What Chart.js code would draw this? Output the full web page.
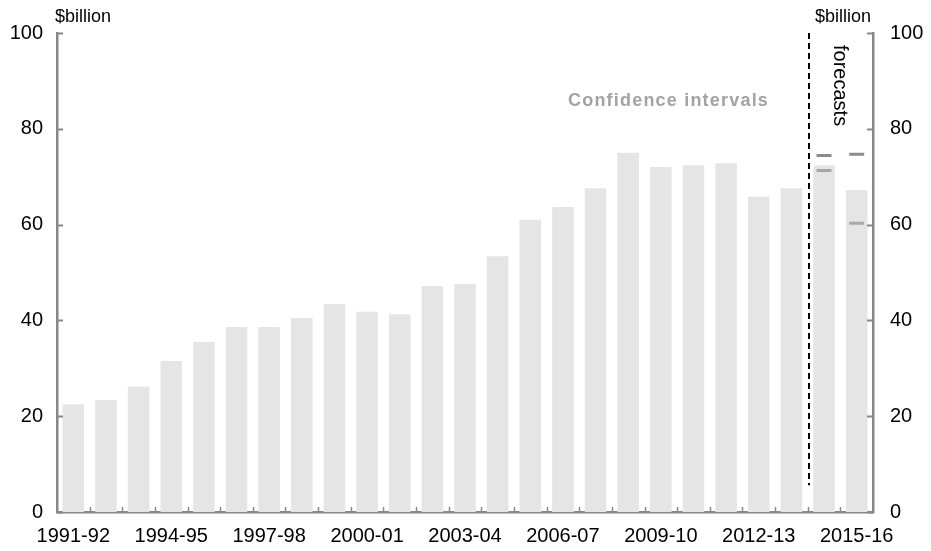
<!DOCTYPE html>
<html>
<head>
<meta charset="utf-8">
<script src="https://cdn.jsdelivr.net/npm/chart.js@4"></script>
<style>
  html, body { margin: 0; padding: 0; background: #fff; }
  #wrap { width: 931px; height: 551px; }
</style>
</head>
<body>
<div id="wrap"><canvas id="chart" width="931" height="551"></canvas></div>
<script>
// ---- data ----
const years = [
    "1991-92", "1992-93", "1993-94", "1994-95", "1995-96", "1996-97", "1997-98",
    "1998-99", "1999-00", "2000-01", "2001-02", "2002-03", "2003-04", "2004-05",
    "2005-06", "2006-07", "2007-08", "2008-09", "2009-10", "2010-11", "2011-12",
    "2012-13", "2013-14", "2014-15", "2015-16"
];
const receipts = [
    22.5, 23.4, 26.2, 31.5, 35.5, 38.6, 38.6, 40.5, 43.4, 41.8, 41.3, 47.2, 47.6,
    53.4, 61.0, 63.7, 67.6, 75.0, 72.0, 72.4, 72.8, 65.8, 67.6, 72.4, 67.2
];
// confidence interval markers (forecast years only)
const ciOuter = [null, null, null, null, null, null, null, null, null, null, null, null, null,
    null, null, null, null, null, null, null, null, null, null, 74.4, 74.7];
const ciInner = [null, null, null, null, null, null, null, null, null, null, null, null, null,
    null, null, null, null, null, null, null, null, null, null, 71.3, 60.3];
const yTicks = [0, 20, 40, 60, 80, 100];
const forecastStart = 22.5;   // boundary between 2013-14 and 2014-15
const forecastLineBottom = 5.6;

const axisColor = "#888888";
const fontFamily = "'Liberation Sans', Arial, sans-serif";

// inward tick marks, forecast divider and free text
const decorations = {
    id: "decorations",
    afterDatasetsDraw(chart) {
        const { ctx, chartArea, scales } = chart;
        const x = scales.x, y = scales.y;
        ctx.save();

        // y ticks pointing into the plot, both sides
        ctx.strokeStyle = axisColor;
        ctx.lineWidth = 2;
        yTicks.forEach((v) => {
            const py = Math.round(y.getPixelForValue(v)) + 0.5;
            ctx.beginPath();
            ctx.moveTo(chartArea.left, py);
            ctx.lineTo(chartArea.left + 6, py);
            ctx.moveTo(chartArea.right, py);
            ctx.lineTo(chartArea.right - 6, py);
            ctx.stroke();
        });
        // x ticks between categories
        ctx.lineWidth = 1.5;
        for (let i = 1; i < years.length; i++) {
            const px = Math.round((x.getPixelForValue(i - 1) + x.getPixelForValue(i)) / 2) + 0.5;
            ctx.beginPath();
            ctx.moveTo(px, chartArea.bottom);
            ctx.lineTo(px, chartArea.bottom - 5);
            ctx.stroke();
        }

        // forecast divider
        const fx = Math.round((x.getPixelForValue(Math.floor(forecastStart)) +
                               x.getPixelForValue(Math.ceil(forecastStart))) / 2) + 1;
        ctx.strokeStyle = "#000";
        ctx.lineWidth = 2;
        ctx.setLineDash([6, 4]);
        ctx.beginPath();
        ctx.moveTo(fx, y.getPixelForValue(100));
        ctx.lineTo(fx, y.getPixelForValue(forecastLineBottom));
        ctx.stroke();
        ctx.setLineDash([]);

        // units
        ctx.fillStyle = "#000";
        ctx.font = "18px " + fontFamily;
        ctx.textBaseline = "middle";
        ctx.textAlign = "left";
        ctx.fillText("$billion", chartArea.left - 2, 17);
        ctx.textAlign = "right";
        ctx.fillText("$billion", chartArea.right - 2, 17);

        // forecasts (rotated)
        ctx.save();
        ctx.font = "20px " + fontFamily;
        ctx.translate(fx + 31, 45);
        ctx.rotate(Math.PI / 2);
        ctx.textAlign = "left";
        ctx.fillText("forecasts", 0, 0);
        ctx.restore();

        // confidence interval label
        ctx.fillStyle = "#a3a3a3";
        ctx.font = "bold 18px " + fontFamily;
        ctx.textAlign = "left";
        if ("letterSpacing" in ctx) ctx.letterSpacing = "1.2px";
        ctx.fillText("Confidence intervals", 568, 101);
        ctx.restore();
    }
};

const yAxisBase = {
    min: 0,
    max: 100,
    grid: { display: false, drawTicks: false },
    border: { display: true, color: axisColor, width: 2.5 },
    ticks: {
        stepSize: 20,
        color: "#000",
        font: { size: 20, family: fontFamily },
    },
};

new Chart(document.getElementById("chart"), {
    data: {
        labels: years,
        datasets: [
            {
                type: "bar",
                data: receipts,
                backgroundColor: "#e5e5e5",
                categoryPercentage: 1,
                barPercentage: 0.66,
                yAxisID: "y",
                order: 2,
            },
            {
                type: "line",
                data: ciOuter,
                showLine: false,
                pointStyle: "line",
                pointRadius: 7.5,
                pointBorderWidth: 3,
                pointBorderColor: "#8c8c8c",
                yAxisID: "y",
                order: 1,
            },
            {
                type: "line",
                data: ciInner,
                showLine: false,
                pointStyle: "line",
                pointRadius: 7.5,
                pointBorderWidth: 3,
                pointBorderColor: "#a8a8a8",
                yAxisID: "y",
                order: 1,
            },
        ],
    },
    options: {
        responsive: false,
        animation: false,
        events: [],
        layout: { padding: { top: 33, left: 0, right: 0, bottom: 0 } },
        plugins: { legend: { display: false }, tooltip: { enabled: false } },
        scales: {
            x: {
                grid: { display: false, drawTicks: false },
                border: { display: true, color: axisColor, width: 2.5 },
                ticks: {
                    autoSkip: false,
                    maxRotation: 0,
                    padding: 12,
                    color: "#000",
                    font: { size: 20, family: fontFamily },
                    callback: (v, i) => (i % 3 === 0 ? years[i] : ""),
                },
                afterFit: (s) => { s.height = 39; },
            },
            y: {
                ...yAxisBase,
                position: "left",
                ticks: { ...yAxisBase.ticks, padding: 14 },
                afterFit: (s) => { s.width = 57; },
            },
            y2: {
                ...yAxisBase,
                position: "right",
                ticks: { ...yAxisBase.ticks, padding: 17 },
                afterFit: (s) => { s.width = 58; },
            },
        },
    },
    plugins: [decorations],
});
</script>
</body>
</html>
